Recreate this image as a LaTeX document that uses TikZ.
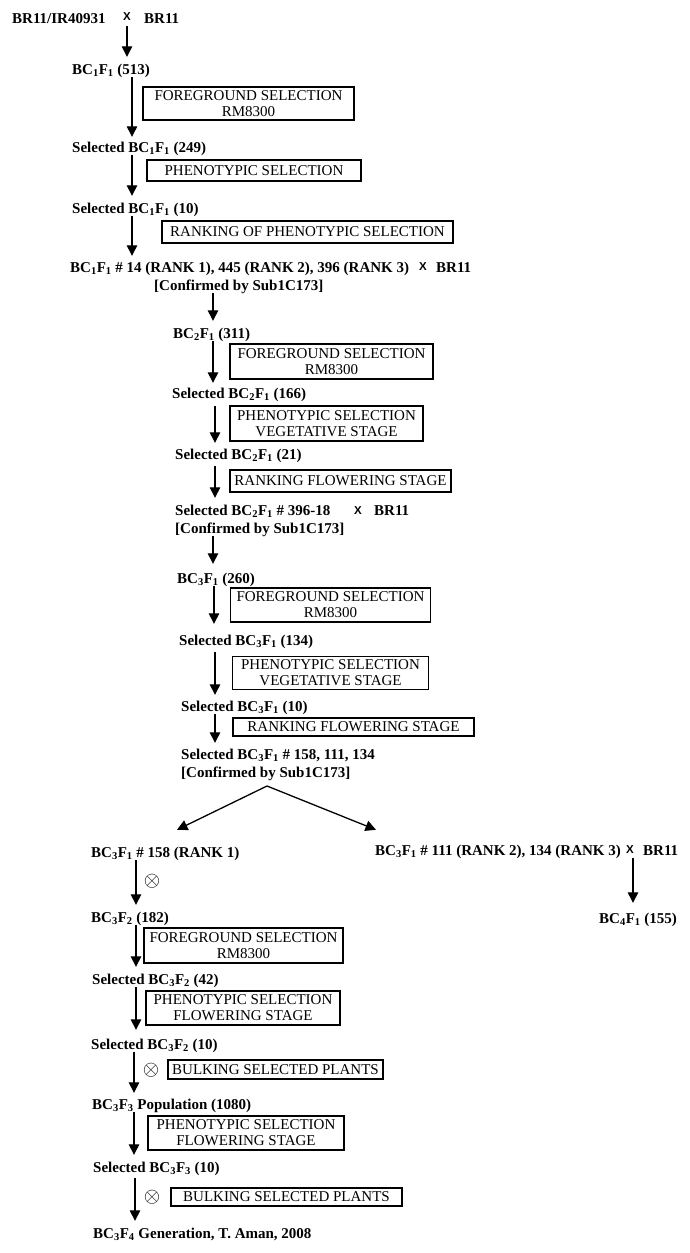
\documentclass[tikz,border=0pt]{standalone}
\usepackage{fontspec}
\setmainfont{Liberation Serif}
\setsansfont{Liberation Sans}
\usetikzlibrary{arrows.meta}
\newcommand{\bcf}[2]{BC\textsubscript{#1}F\textsubscript{#2}}
\begin{document}
\begin{tikzpicture}[x=1pt,y=1pt,
 txt/.style={font=\fontsize{15}{17}\selectfont\bfseries, inner sep=0pt, anchor=base west, text height=10pt, text depth=3pt},
 crossx/.style={font=\fontsize{11.5}{12}\selectfont\sffamily\bfseries, inner sep=0pt},
 box/.style={draw, line width=1.1pt, font=\fontsize{15}{16}\selectfont, align=center, inner sep=0pt},
 arr/.style={line width=1.3pt, -{Triangle[length=10.5pt,width=10.5pt]}},
 selfx/.style={inner sep=0pt}]
\useasboundingbox (0,0) rectangle (690,-1253);

% ---- top cross
\node[txt] (t0) at (12,-23) {BR11/IR40931};
\node[crossx] (x0) at (127,-17) {X};
\node[txt] (p0) at (144,-23) {BR11};

% ---- BC1
\node[txt] (n1) at (72,-74) {\bcf11 (513)};
\node[txt] (n2) at (72,-152) {Selected \bcf11 (249)};
\node[txt] (n3) at (72,-213) {Selected \bcf11 (10)};
\node[txt] (n4) at (70,-272) {\bcf11 \# 14 (RANK 1), 445 (RANK 2), 396 (RANK 3)};
\node[crossx] (x1) at (423,-267) {X};
\node[txt] (p1) at (436,-272) {BR11};
\node[txt] (n5) at (154,-290) {[Confirmed by Sub1C173]};

\node[box, minimum width=211pt, minimum height=33pt] (b1) at (248.5,-103.5) {FOREGROUND SELECTION\\RM8300};
\node[box, minimum width=214pt, minimum height=21pt] (b2) at (254,-170.5) {PHENOTYPIC SELECTION};
\node[box, minimum width=291pt, minimum height=22pt] (b3) at (307.5,-232) {RANKING OF PHENOTYPIC SELECTION};

\draw[arr] (t0.south -| 127,0) -- ([yshift=7pt]n1.north -| 127,0);
\draw[arr] (n1.south -| 132,0) -- ([yshift=5pt]n2.north -| 132,0);
\draw[arr] (n2.south -| 132,0) -- ([yshift=7pt]n3.north -| 132,0);
\draw[arr] (n3.south -| 132,0) -- ([yshift=6pt]n4.north -| 132,0);

% ---- BC2
\node[txt] (n6) at (173,-338) {\bcf21 (311)};
\node[txt] (n7) at (172,-398) {Selected \bcf21 (166)};
\node[txt] (n8) at (175,-459) {Selected \bcf21 (21)};
\node[txt] (n9) at (175,-515) {Selected \bcf21 \# 396-18};
\node[crossx] (x2) at (358,-511) {X};
\node[txt] (p2) at (374,-515) {BR11};
\node[txt] (n10) at (175,-533) {[Confirmed by Sub1C173]};

\node[box, minimum width=203pt, minimum height=35pt] (b4) at (331.5,-361.5) {FOREGROUND SELECTION\\RM8300};
\node[box, minimum width=193pt, minimum height=35pt] (b5) at (326.5,-423.5) {PHENOTYPIC SELECTION\\VEGETATIVE STAGE};
\node[box, minimum width=221pt, minimum height=22pt] (b6) at (340.5,-481) {RANKING FLOWERING STAGE};

\draw[arr] (n5.south -| 213,0) -- ([yshift=7pt]n6.north -| 213,0);
\draw[arr] (n6.south -| 213,0) -- ([yshift=5pt]n7.north -| 213,0);
\draw[arr] ([yshift=-5pt]n7.south -| 215,0) -- ([yshift=6pt]n8.north -| 215,0);
\draw[arr] ([yshift=-4pt]n8.south -| 215,0) -- ([yshift=7pt]n9.north -| 215,0);

% ---- BC3
\node[txt] (n11) at (177,-583) {\bcf31 (260)};
\node[txt] (n12) at (179,-645) {Selected \bcf31 (134)};
\node[txt] (n13) at (181,-711) {Selected \bcf31 (10)};
\node[txt] (n14) at (181,-759) {Selected \bcf31 \# 158, 111, 134};
\node[txt] (n15) at (181,-777) {[Confirmed by Sub1C173]};

\node[box, minimum width=200pt, minimum height=34pt] (b7) at (330.5,-605) {FOREGROUND SELECTION\\RM8300};
\node[box, minimum width=196pt, minimum height=33pt] (b8) at (330.5,-673) {PHENOTYPIC SELECTION\\VEGETATIVE STAGE};
\node[box, minimum width=241pt, minimum height=18pt] (b9) at (353.5,-727) {RANKING FLOWERING STAGE};

\draw[arr] (n10.south -| 213,0) -- ([yshift=9pt]n11.north -| 213,0);
\draw[arr] (n11.south -| 214,0) -- ([yshift=11pt]n12.north -| 214,0);
\draw[arr] ([yshift=-4pt]n12.south -| 215,0) -- ([yshift=6pt]n13.north -| 215,0);
\draw[arr] (n13.south -| 215,0) -- ([yshift=6pt]n14.north -| 215,0);

% ---- split
\coordinate (apex) at (267,-786);
\node[txt] (n16) at (91,-857) {\bcf31 \# 158 (RANK 1)};
\node[txt] (n17) at (375,-855) {\bcf31 \# 111 (RANK 2), 134 (RANK 3)};
\node[crossx] (x3) at (630,-850) {X};
\node[txt] (p3) at (643,-855) {BR11};
\node[txt] (n18) at (599,-923) {\bcf41 (155)};

\draw[arr] (apex) -- ([yshift=17pt]n16.north -| 177,0);
\draw[arr] (apex) -- ([yshift=15pt]n17.north -| 376,0);
\draw[arr] (n17.south -| 633,0) -- ([yshift=10pt]n18.north -| 633,0);

% ---- left branch
\node[txt] (n19) at (91,-922) {\bcf32 (182)};
\node[txt] (n20) at (92,-984) {Selected \bcf32 (42)};
\node[txt] (n21) at (91,-1049) {Selected \bcf32 (10)};
\node[txt] (n22) at (92,-1109) {\bcf33 Population (1080)};
\node[txt] (n23) at (93,-1172) {Selected \bcf33 (10)};
\node[txt] (n24) at (93,-1238) {\bcf34 Generation, T. Aman, 2008};

\node[selfx] (s1) at (152,-881) {\scalebox{2.1}{$\otimes$}};
\node[selfx] (s2) at (151,-1070) {\scalebox{2.1}{$\otimes$}};
\node[selfx] (s3) at (152,-1197) {\scalebox{2.1}{$\otimes$}};

\node[box, minimum width=199pt, minimum height=35pt] (b10) at (243.5,-945.5) {FOREGROUND SELECTION\\RM8300};
\node[box, minimum width=194pt, minimum height=34pt] (b11) at (243,-1008) {PHENOTYPIC SELECTION\\FLOWERING STAGE};
\node[box, minimum width=215pt, minimum height=19pt] (b12) at (275.5,-1069.5) {BULKING SELECTED PLANTS};
\node[box, minimum width=196pt, minimum height=34pt] (b13) at (246,-1133) {PHENOTYPIC SELECTION\\FLOWERING STAGE};
\node[box, minimum width=231pt, minimum height=18pt] (b14) at (286.5,-1197) {BULKING SELECTED PLANTS};

\draw[arr] (n16.south -| 136,0) -- ([yshift=7pt]n19.north -| 136,0);
\draw[arr] (n19.south -| 136,0) -- ([yshift=7pt]n20.north -| 136,0);
\draw[arr] (n20.south -| 136,0) -- ([yshift=9pt]n21.north -| 136,0);
\draw[arr] (n21.south -| 134,0) -- ([yshift=6pt]n22.north -| 134,0);
\draw[arr] (n22.south -| 134,0) -- ([yshift=7pt]n23.north -| 134,0);
\draw[arr] ([yshift=-3pt]n23.south -| 135,0) -- ([yshift=7pt]n24.north -| 135,0);
\end{tikzpicture}
\end{document}
